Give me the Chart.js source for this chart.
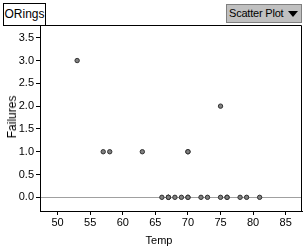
<!DOCTYPE html>
<html>
<head>
<meta charset="utf-8">
<script src="https://cdn.jsdelivr.net/npm/chart.js@4/dist/chart.umd.min.js"></script>
<style>
  html, body { margin: 0; padding: 0; background: #fff; }
  #wrap { position: relative; width: 306px; height: 246px; overflow: hidden; font-family: "Liberation Sans", Arial, sans-serif; }
  canvas { position: absolute; left: 0; top: 0; }
  #title { position: absolute; left: 3px; top: 3px; width: 41px; height: 21px; border: 1px solid #000; box-sizing: content-box; font-size: 12px; line-height: 21px; text-align: center; background: #fff; }
  #drop { position: absolute; left: 226px; top: 4px; width: 76px; height: 19px; background: #c0c0c0; border: 1px solid #808080; box-sizing: border-box; font-size: 11px; line-height: 17px; padding-left: 2px; white-space: nowrap; letter-spacing: -0.2px; }
  #drop .tri { position: absolute; right: 3px; top: 6px; width: 0; height: 0; border-left: 5px solid transparent; border-right: 5px solid transparent; border-top: 6px solid #000; }
  #ytitle { position: absolute; left: 12px; top: 117px; transform: translate(-50%, -50%) rotate(-90deg); font-size: 12px; white-space: nowrap; }
  #xtitle { position: absolute; left: 159px; top: 240px; transform: translate(-50%, -50%); font-size: 11px; white-space: nowrap; }
</style>
</head>
<body>
<div id="wrap">
  <canvas id="c" width="306" height="246"></canvas>
  <div id="title">ORings</div>
  <div id="drop">Scatter Plot<span class="tri"></span></div>
  <div id="ytitle">Failures</div>
  <div id="xtitle">Temp</div>
</div>
<script>
// Data (Challenger O-ring data)
const temps    = [53, 57, 58, 63, 66, 67, 67, 67, 68, 69, 70, 70, 70, 70, 72, 73, 75, 75, 76, 76, 78, 79, 81];
const failures = [ 3,  1,  1,  1,  0,  0,  0,  0,  0,  0,  1,  0,  1,  0,  0,  0,  2,  0,  0,  0,  0,  0,  0];
const xTicks = [50, 55, 60, 65, 70, 75, 80, 85];
const yTicks = [0.0, 0.5, 1.0, 1.5, 2.0, 2.5, 3.0, 3.5];
const xRange = [47.3, 87.5];
const yRange = [-0.3, 3.78];

const points = temps.map((t, i) => ({ x: t, y: failures[i] }));

const framePlugin = {
  id: 'frame',
  beforeDatasetsDraw(chart) {
    const { ctx, chartArea: a, scales } = chart;
    const y0 = Math.round(scales.y.getPixelForValue(0)) + 0.5;
    ctx.save();
    ctx.strokeStyle = '#a0a0a0';
    ctx.lineWidth = 1;
    ctx.beginPath();
    ctx.moveTo(a.left, y0);
    ctx.lineTo(a.right, y0);
    ctx.stroke();
    ctx.restore();
  },
  afterDraw(chart) {
    const { ctx, chartArea: a } = chart;
    ctx.save();
    ctx.strokeStyle = '#000';
    ctx.lineWidth = 1;
    ctx.beginPath();
    ctx.moveTo(a.left + 0.5, a.bottom + 0.5);
    ctx.lineTo(a.left + 0.5, a.top + 0.5);
    ctx.lineTo(a.right - 0.5, a.top + 0.5);
    ctx.lineTo(a.right - 0.5, a.bottom + 0.5);
    ctx.lineTo(a.left + 0.5, a.bottom + 0.5);
    ctx.stroke();
    ctx.restore();
  }
};

new Chart(document.getElementById('c'), {
  type: 'scatter',
  data: {
    datasets: [{
      data: points,
      pointRadius: 2.2,
      pointHoverRadius: 2.2,
      pointBackgroundColor: '#808080',
      pointBorderColor: '#303030',
      pointBorderWidth: 1
    }]
  },
  options: {
    responsive: false,
    animation: false,
    events: [],
    layout: { padding: { left: 0, top: 25, right: 4, bottom: 0 } },
    plugins: { legend: { display: false }, tooltip: { enabled: false } },
    scales: {
      x: {
        type: 'linear',
        min: xRange[0], max: xRange[1],
        afterFit(s) { s.height = 35; },
        afterBuildTicks(s) { s.ticks = xTicks.map(v => ({ value: v })); },
        grid: { drawOnChartArea: false, drawTicks: true, tickLength: 4, color: '#000' },
        border: { display: true, color: '#000' },
        ticks: { color: '#000', padding: 1, maxRotation: 0, autoSkip: false, font: { family: 'Liberation Sans', size: 11 } }
      },
      y: {
        type: 'linear',
        min: yRange[0], max: yRange[1],
        afterFit(s) { s.width = 40; },
        afterBuildTicks(s) { s.ticks = yTicks.map(v => ({ value: v })); },
        grid: { drawOnChartArea: false, drawTicks: true, tickLength: 4, color: '#000' },
        border: { display: true, color: '#000' },
        ticks: { color: '#000', padding: 2, autoSkip: false, font: { family: 'Liberation Sans', size: 11 }, callback: v => Number(v).toFixed(1) }
      }
    }
  },
  plugins: [framePlugin]
});
</script>
</body>
</html>
